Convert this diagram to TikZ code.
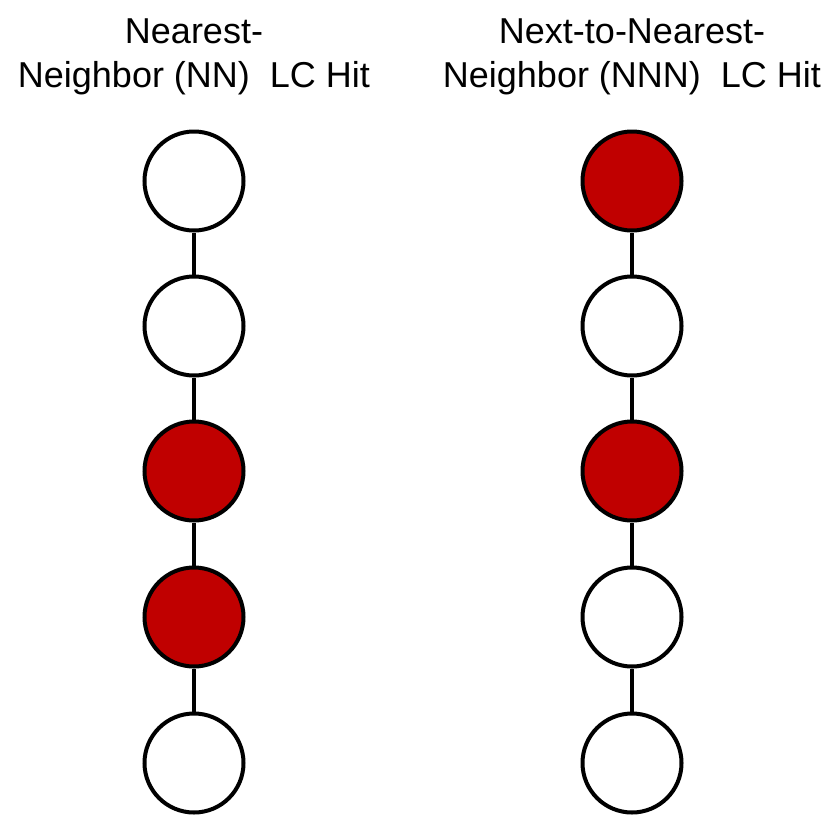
\documentclass[tikz,border=0pt]{standalone}
\usepackage{fontspec}
\setmainfont{Liberation Sans}
\definecolor{hitred}{HTML}{C00000}
\begin{document}
\begin{tikzpicture}[x=1pt,y=-1pt,
  site/.style={circle,draw=black,line width=4pt,minimum size=99pt,inner sep=0pt,fill=white},
  hit/.style={site,fill=hitred},
  bond/.style={line width=4pt},
  lbl/.style={font=\fontsize{36}{42}\selectfont,align=center,inner sep=0pt}]
\useasboundingbox (0,0) rectangle (829,814);
\node[lbl] (t1a) at (194,31) {Nearest-};
\node[lbl] (t1b) at (194,78) {Neighbor (NN)\ \ LC Hit};
\node[lbl] (t2a) at (632,31) {Next-to-Nearest-};
\node[lbl] (t2b) at (632,78) {Neighbor (NNN)\ \ LC Hit};
\node[site] (a1) at (194,181) {};
\node[site] (a2) at (194,326) {};
\node[hit]  (a3) at (194,471) {};
\node[hit]  (a4) at (194,617) {};
\node[site] (a5) at (194,763) {};
\node[hit]  (b1) at (632,181) {};
\node[site] (b2) at (632,326) {};
\node[hit]  (b3) at (632,471) {};
\node[site] (b4) at (632,617) {};
\node[site] (b5) at (632,763) {};
\draw[bond] (a1) -- (a2) (a2) -- (a3) (a3) -- (a4) (a4) -- (a5);
\draw[bond] (b1) -- (b2) (b2) -- (b3) (b3) -- (b4) (b4) -- (b5);
\end{tikzpicture}
\end{document}
